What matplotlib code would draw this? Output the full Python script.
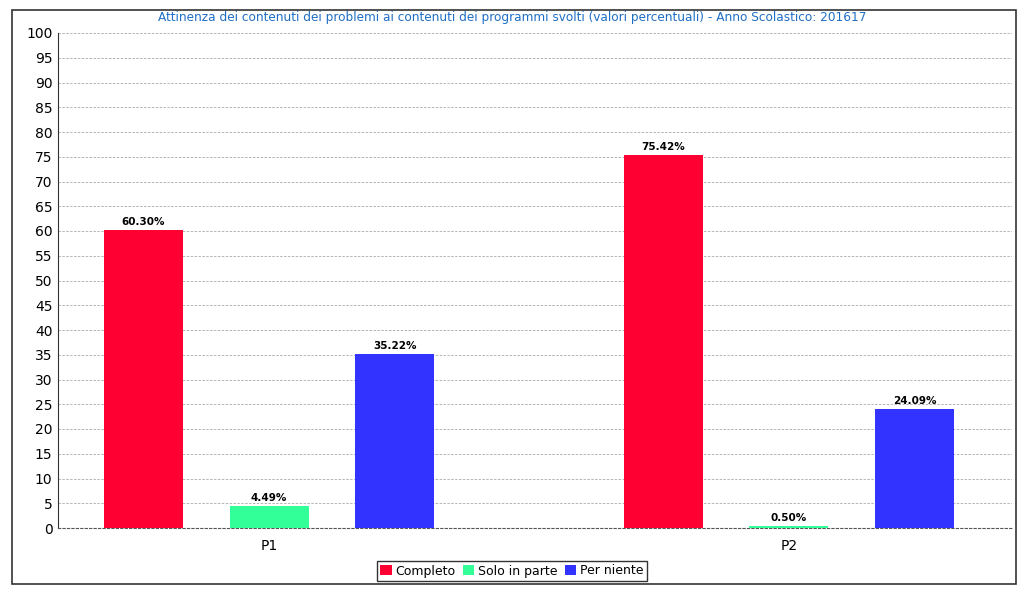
import matplotlib.pyplot as plt
import matplotlib.patches as mpatches
import numpy as np

# data
gruppi = ["P1", "P2"]
serie = ["Completo", "Solo in parte", "Per niente"]
completo = [60.30, 75.42]
solo_in_parte = [4.49, 0.50]
per_niente = [35.22, 24.09]
colori = ["#FF0033", "#33FF99", "#3333FF"]

fig = plt.figure(figsize=(10.24, 6.12), dpi=100)

# outer frame
fig.patches.append(mpatches.Rectangle((12 / 1024, 1 - 584 / 612), 1004 / 1024, 574 / 612,
                                      transform=fig.transFigure, fill=False,
                                      edgecolor="#333333", linewidth=1.2))

ax = fig.add_axes([58 / 1024, 1 - 528 / 612, 954 / 1024, 495 / 612])

x = np.arange(len(gruppi))
w = 0.152
off = 0.242
for i, (vals, nome) in enumerate(zip([completo, solo_in_parte, per_niente], serie)):
    bars = ax.bar(x + (i - 1) * off, vals, w, color=colori[i], label=nome, zorder=3)
    for b, v in zip(bars, vals):
        ax.text(b.get_x() + b.get_width() / 2, v + 0.6, f"{v:.2f}%",
                ha="center", va="bottom", fontsize=7.5, fontweight="bold", zorder=4)

ax.set_xlim(-0.406, 1.429)
ax.set_ylim(0, 100)
ax.set_yticks(range(0, 101, 5))
ax.set_xticks(x)
ax.set_xticklabels(gruppi)
ax.tick_params(axis="both", labelsize=10, length=0, pad=4)
ax.tick_params(axis="x", pad=8)
ax.grid(axis="y", color="#b5b5b5", linestyle=(0, (2.5, 1.5)), linewidth=0.7, zorder=0)

for s in ["top", "right"]:
    ax.spines[s].set_visible(False)
ax.spines["left"].set_color("#333333")
ax.spines["bottom"].set_linestyle((0, (2, 2)))
ax.spines["bottom"].set_color("#555555")

fig.text(0.5, 1 - 18 / 612, "Attinenza dei contenuti dei problemi ai contenuti dei programmi svolti "
         "(valori percentuali) - Anno Scolastico: 201617",
         ha="center", va="center", fontsize=8.7, color="#1f6fc5")

leg = fig.legend(loc="center", bbox_to_anchor=(0.5, 1 - 571 / 612), ncol=3, frameon=True,
                 fontsize=9, handlelength=0.9, handleheight=0.9, handletextpad=0.3,
                 columnspacing=0.6, borderpad=0.3, fancybox=False)
leg.get_frame().set_edgecolor("#000000")
leg.get_frame().set_linewidth(1)

fig.savefig("out.png", dpi=100)
